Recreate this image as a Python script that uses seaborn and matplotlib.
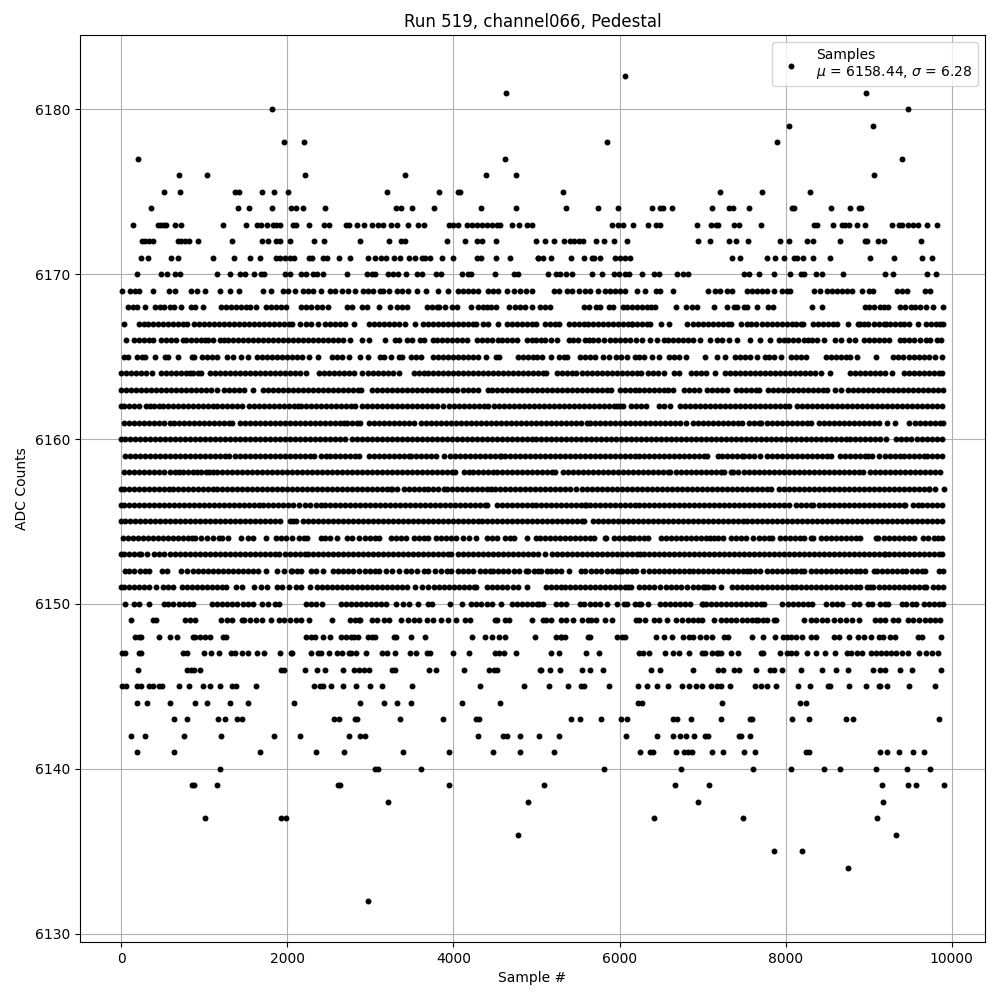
import matplotlib
matplotlib.use('Agg')
import matplotlib.pyplot as plt
import pandas as pd
import seaborn as sns

TITLE = 'Run 519, channel066, Pedestal'
X_LABEL = 'Sample #'
Y_LABEL = 'ADC Counts'
LEGEND_LABEL = 'Samples\n$\\mu$ = 6158.44, $\\sigma$ = 6.28'

# valores, muestra por cada nivel de ADC
adc_6182 = [6060]
adc_6181 = [4627, 8964]
adc_6180 = [1817, 9470]
adc_6179 = [8036, 9048]
adc_6178 = [1962, 2203, 5843, 7892]
adc_6177 = [201, 4615, 9398]
adc_6176 = [695, 1033, 2215, 3421, 4398, 4748, 9060]
adc_6175 = [515, 708, 1371, 1419, 1696, 1841, 2010, 3204, 3831, 4050, 4080, 5325, 7205, 7711, 8289]
adc_6174 = [358, 1407, 1540, 1817, 2046, 2106, 2191, 2456, 3308, 3369, 3505, 3771, 4338, 4748, 5350, 5735, 5976,
            6386, 6482, 6518, 6626, 7108, 7313, 7361, 7554, 8076, 8104, 8542, 8771, 8880, 8904]
adc_6173 = [141, 442, 482, 515, 543, 647, 724, 1226, 1503, 1636, 1684, 1757, 1829, 1869, 1913, 2070, 2102, 2263, 2444,
            2504, 2705, 2742, 2842, 2918, 3023, 3095, 3155, 3252, 3325, 3457, 3578, 3650, 3952, 4000, 4060, 4160, 4220,
            4280, 4350, 4410, 4470, 4522, 4563, 4703, 4784, 4884, 4944, 5904, 5976, 6036, 6157, 6337, 6434, 6486, 6928,
            7096, 7157, 7189, 7373, 7438, 7699, 8337, 8378, 8566, 8675, 8719, 8763, 8860, 8952, 9277, 9361, 9402, 9474,
            9530, 9590, 9703, 9819]
adc_6172 = [249, 289, 334, 382, 683, 724, 772, 816, 925, 1335, 1696, 1769, 1869, 1913, 2034, 2324, 2444, 2878, 3228,
            3369, 3417, 3928, 4145, 4281, 4350, 4518, 4989, 5108, 5205, 5337, 5406, 5446, 5506, 5558, 5711, 5815, 5928,
            6084, 6940, 7084, 7313, 7398, 7542, 7928, 8036, 8253, 8325, 8650, 8952, 8980, 9108, 9180, 9626]
adc_6171 = [237, 322, 599, 683, 1105, 1359, 1548, 1672, 1861, 1909, 1970, 2030, 2078, 2263, 2303, 2432, 2480, 2625,
            2758, 2975, 3059, 3128, 3188, 3288, 3361, 3469, 3538, 3618, 3658, 3723, 3867, 4000, 4281, 4338, 4518, 4687,
            5021, 5024, 5076, 5180, 5410, 5566, 5667, 5695, 5759, 5948, 6000, 6060, 6120, 7349, 7446, 7771, 7867, 7976,
            8096, 8136, 8205, 8333, 8530, 9012, 9301, 9642, 9759]
adc_6170 = [189, 478, 551, 647, 704, 1154, 1315, 1431, 1492, 1600, 1684, 1721, 1974, 2030, 2171, 2231, 2311, 2352, 2432,
            2721, 2963, 3015, 3055, 3216, 3276, 3337, 3433, 3558, 3618, 3795, 3855, 4108, 4173, 4209, 4506, 4724, 4772,
            5144, 5236, 5285, 5357, 5426, 5667, 5783, 5928, 5988, 6068, 6108, 6265, 6418, 6470, 6687, 6763, 6819, 7494,
            7554, 7675, 7855, 8052, 8185, 8225, 8361, 8438, 8687, 9193, 9289, 9703, 9807]
adc_6169 = [8, 109, 161, 213, 382, 575, 643, 844, 912, 1005, 1194, 1307, 1419, 1709, 1809, 1950, 2010, 2090, 2191, 2251,
            2311, 2408, 2513, 2573, 2653, 2733, 2818, 2914, 2967, 3035, 3115, 3155, 3228, 3316, 3377, 3457, 3566, 3674,
            3815, 3940, 4060, 4120, 4181, 4241, 4301, 4422, 4482, 4542, 4643, 4724, 4804, 4868, 4941, 5205, 5265, 5365,
            5426, 5506, 5586, 5647, 5739, 5827, 5888, 5948, 6008, 6068, 6205, 6305, 6442, 6482, 6639, 7060, 7153, 7205,
            7293, 7353, 7534, 7594, 7655, 7715, 7775, 7855, 7956, 8016, 8056, 8337, 8418, 8498, 8558, 8618, 8679, 8739,
            8799, 8916, 9004, 9052, 9341, 9402, 9462, 9675, 9739]
adc_6168 = [80, 141, 189, 285, 402, 462, 522, 583, 639, 719, 844, 884, 985, 1206, 1266, 1327, 1387, 1447, 1507, 1548,
            1624, 1749, 1809, 1869, 1929, 1990, 2171, 2231, 2291, 2352, 2412, 2492, 2721, 2774, 2894, 2955, 3107, 3236,
            3316, 3377, 3437, 3678, 3739, 3799, 3831, 3903, 3984, 4040, 4213, 4301, 4362, 4402, 4450, 4510, 4675, 4744,
            4804, 4864, 4944, 5044, 5105, 5165, 5566, 5627, 5719, 5767, 5875, 5920, 6040, 6088, 6148, 6209, 6269, 6329,
            6378, 6430, 6675, 6803, 6871, 6932, 7133, 7289, 7373, 7414, 7494, 7534, 7655, 7783, 7847, 8317, 8438, 8952,
            9000, 9060, 9140, 9180, 9233, 9373, 9442, 9510, 9562, 9622, 9683, 9771, 9891]
adc_6167 = [32, 210, 270, 320, 380, 440, 500, 560, 620, 680, 740, 790, 880, 940, 1000, 1060, 1120, 1180, 1240, 1300,
            1360, 1420, 1480, 1540, 1600, 1660, 1720, 1780, 1840, 1900, 1960, 2020, 2060, 2151, 2231, 2291, 2372, 2460,
            2520, 2580, 2640, 2700, 2800, 2980, 3040, 3100, 3160, 3220, 3280, 3340, 3420, 3538, 3630, 3690, 3750, 3810,
            3870, 3930, 3990, 4050, 4110, 4170, 4230, 4270, 4362, 4420, 4538, 4640, 4700, 4760, 4820, 4880, 4940, 5000,
            5105, 5165, 5225, 5265, 5386, 5446, 5506, 5566, 5626, 5686, 5746, 5806, 5866, 5926, 5986, 6040, 6100, 6152,
            6150, 6210, 6270, 6330, 6370, 6498, 6591, 6815, 6880, 6950, 7000, 7060, 7120, 7180, 7240, 7300, 7345, 7462,
            7530, 7585, 7643, 7720, 7780, 7840, 7900, 7955, 8012, 8070, 8130, 8190, 8209, 8330, 8390, 8450, 8510, 8570,
            8620, 8747, 8870, 8900, 8940, 8990, 9060, 9120, 9180, 9210, 9250, 9310, 9370, 9430, 9480, 9588, 9690, 9750,
            9810, 9855, 9892]
adc_6166 = [60, 160, 220, 280, 334, 382, 482, 540, 600, 660, 743, 784, 844, 900, 960, 1005, 1045, 1100, 1194, 1234, 1290,
            1350, 1410, 1470, 1527, 1588, 1650, 1710, 1770, 1830, 1890, 1950, 2010, 2070, 2130, 2190, 2250, 2310, 2370,
            2430, 2490, 2550, 2610, 2670, 2754, 2894, 2987, 3180, 3296, 3350, 3437, 3505, 3598, 3650, 3759, 3799, 3860,
            3920, 3980, 4040, 4100, 4160, 4281, 4341, 4400, 4460, 4542, 4582, 4640, 4700, 4760, 4884, 4944, 5000, 5060,
            5105, 5173, 5245, 5386, 5440, 5500, 5587, 5627, 5680, 5740, 5815, 5888, 5950, 6010, 6068, 6129, 6201, 6269,
            6362, 6450, 6530, 6579, 6640, 6700, 6760, 6820, 6880, 6972, 7093, 7173, 7233, 7313, 7414, 7575, 7687, 7815,
            7916, 7976, 8030, 8090, 8150, 8217, 8265, 8317, 8380, 8458, 8599, 8660, 8760, 8840, 8940, 9000, 9060, 9120,
            9180, 9240, 9380, 9421, 9481, 9540, 9622, 9683, 9743, 9823, 9872]
adc_6165 = [32, 88, 190, 250, 290, 402, 530, 570, 683, 855, 873, 975, 1030, 1090, 1150, 1280, 1350, 1447, 1527, 1640,
            1700, 1760, 1820, 1880, 1940, 2000, 2060, 2120, 2180, 2260, 2372, 2540, 2600, 2660, 2740, 2874, 2967, 3115,
            3170, 3245, 3350, 3385, 3490, 3550, 3610, 3755, 3815, 3875, 3935, 3995, 4055, 4115, 4175, 4235, 4295, 4390,
            4510, 4550, 4775, 4835, 4895, 4955, 5010, 5070, 5173, 5275, 5330, 5370, 5520, 5580, 5640, 5710, 5795, 5868,
            5960, 6020, 6089, 6189, 6240, 6300, 6396, 6470, 6600, 6660, 6720, 6800, 7033, 7173, 7273, 7385, 7450, 7510,
            7570, 7650, 7746, 7800, 7860, 7940, 8060, 8120, 8180, 8250, 8480, 8540, 8600, 8660, 8720, 8780, 8860, 9092,
            9294, 9350, 9410, 9480, 9540, 9600, 9660, 9720, 9800, 9884]
adc_6164 = [0, 60, 120, 180, 240, 300, 370, 480, 540, 600, 660, 720, 780, 830, 870, 930, 960, 1070, 1130, 1190, 1250,
            1310, 1370, 1430, 1490, 1550, 1610, 1670, 1730, 1790, 1850, 1910, 1970, 2030, 2090, 2150, 2230, 2380, 2440,
            2500, 2560, 2620, 2680, 2740, 2800, 2900, 2970, 3030, 3090, 3150, 3210, 3270, 3340, 3520, 3580, 3640, 3700,
            3760, 3820, 3880, 3940, 4000, 4060, 4120, 4180, 4240, 4300, 4360, 4420, 4480, 4540, 4600, 4660, 4720, 4780,
            4840, 4900, 4960, 5020, 5080, 5120, 5250, 5310, 5370, 5430, 5480, 5550, 5610, 5670, 5730, 5790, 5850, 5910,
            5970, 6030, 6090, 6150, 6210, 6260, 6340, 6400, 6460, 6530, 6650, 6720, 6860, 6920, 6980, 7040, 7145, 7270,
            7330, 7390, 7450, 7510, 7570, 7630, 7690, 7750, 7810, 7870, 7930, 7990, 8050, 8110, 8170, 8230, 8290, 8350,
            8420, 8530, 8780, 8840, 8900, 8960, 9020, 9080, 9140, 9200, 9280, 9430, 9490, 9550, 9600, 9660, 9720, 9780,
            9840, 9885]
adc_6163 = [0, 60, 120, 180, 240, 300, 360, 420, 480, 540, 600, 660, 720, 780, 840, 900, 960, 1020, 1080, 1150, 1240,
            1300, 1360, 1420, 1480, 1590, 1710, 1770, 1830, 1890, 1950, 2010, 2070, 2130, 2190, 2250, 2310, 2370, 2430,
            2490, 2550, 2610, 2670, 2730, 2790, 2850, 2890, 3020, 3080, 3140, 3200, 3260, 3320, 3380, 3440, 3500, 3560,
            3620, 3680, 3740, 3800, 3860, 3920, 3980, 4040, 4120, 4180, 4240, 4300, 4420, 4460, 4530, 4590, 4650, 4710,
            4770, 4830, 4890, 4950, 5010, 5070, 5130, 5190, 5250, 5310, 5370, 5430, 5490, 5550, 5610, 5670, 5730, 5790,
            5850, 5900, 6000, 6060, 6120, 6180, 6240, 6300, 6360, 6420, 6480, 6540, 6580, 6640, 6780, 6840, 6900, 6960,
            7050, 7110, 7170, 7230, 7290, 7400, 7460, 7520, 7580, 7640, 7680, 7790, 7850, 7910, 7970, 8030, 8090, 8150,
            8210, 8270, 8330, 8390, 8450, 8500, 8590, 8660, 8750, 8810, 8870, 8930, 8990, 9050, 9110, 9170, 9230, 9290,
            9350, 9410, 9470, 9530, 9590, 9650, 9710, 9770, 9830, 9890]
adc_6162 = [0, 40, 100, 160, 220, 300, 350, 400, 450, 500, 560, 620, 680, 740, 800, 860, 920, 980, 1040, 1100, 1160,
            1220, 1280, 1340, 1400, 1460, 1540, 1600, 1660, 1720, 1780, 1840, 1900, 1960, 2020, 2080, 2130, 2170, 2230,
            2290, 2350, 2410, 2470, 2530, 2590, 2650, 2710, 2770, 2820, 2900, 2960, 3020, 3080, 3140, 3200, 3260, 3320,
            3380, 3440, 3500, 3560, 3620, 3680, 3740, 3800, 3880, 3950, 4010, 4070, 4130, 4190, 4250, 4310, 4370, 4420,
            4490, 4550, 4610, 4670, 4730, 4790, 4850, 4910, 4970, 5030, 5090, 5150, 5210, 5270, 5330, 5390, 5450, 5510,
            5570, 5630, 5690, 5750, 5810, 5870, 5930, 5970, 6010, 6040, 6140, 6200, 6260, 6320, 6480, 6540, 6610, 6730,
            6790, 6850, 6910, 6970, 7030, 7090, 7150, 7210, 7270, 7330, 7390, 7450, 7510, 7570, 7630, 7690, 7750, 7810,
            7870, 7930, 7990, 8040, 8140, 8200, 8260, 8320, 8380, 8440, 8500, 8560, 8620, 8680, 8740, 8800, 8860, 8920,
            8980, 9040, 9100, 9160, 9220, 9280, 9340, 9400, 9460, 9520, 9580, 9640, 9700, 9760, 9820, 9880]
adc_6161 = [32, 90, 150, 210, 270, 330, 390, 450, 510, 590, 640, 700, 760, 820, 880, 940, 1000, 1060, 1120, 1180, 1240,
            1300, 1340, 1430, 1490, 1550, 1610, 1670, 1730, 1790, 1850, 1910, 1970, 2030, 2090, 2150, 2210, 2270, 2330,
            2390, 2450, 2510, 2570, 2630, 2680, 2720, 2780, 2840, 2870, 2980, 3040, 3100, 3160, 3220, 3280, 3340, 3400,
            3460, 3530, 3610, 3670, 3730, 3790, 3850, 3910, 3970, 4030, 4090, 4150, 4210, 4270, 4330, 4390, 4450, 4510,
            4570, 4630, 4690, 4750, 4810, 4870, 4930, 4990, 5050, 5110, 5170, 5230, 5290, 5350, 5410, 5470, 5540, 5610,
            5650, 5710, 5770, 5830, 5890, 5950, 6010, 6070, 6130, 6190, 6250, 6310, 6370, 6430, 6490, 6550, 6610, 6670,
            6730, 6800, 6880, 6940, 7000, 7060, 7120, 7180, 7240, 7300, 7360, 7420, 7470, 7560, 7620, 7680, 7705, 7770,
            7830, 7890, 7950, 8020, 8080, 8140, 8200, 8260, 8310, 8400, 8460, 8520, 8580, 8640, 8700, 8760, 8820, 8880,
            8940, 9000, 9060, 9120, 9220, 9320, 9490, 9560, 9620, 9680, 9740, 9800, 9860, 9890]
adc_6160 = [0, 50, 110, 170, 230, 290, 350, 410, 470, 530, 590, 650, 710, 770, 830, 890, 950, 1010, 1070, 1130, 1190,
            1250, 1310, 1370, 1430, 1490, 1550, 1610, 1670, 1730, 1790, 1850, 1910, 1970, 2030, 2090, 2150, 2210, 2270,
            2330, 2390, 2450, 2510, 2570, 2630, 2700, 2780, 2840, 2900, 2960, 3020, 3080, 3140, 3200, 3260, 3320, 3380,
            3440, 3500, 3560, 3620, 3680, 3740, 3800, 3860, 3920, 3980, 4040, 4100, 4160, 4220, 4280, 4340, 4400, 4460,
            4520, 4580, 4640, 4700, 4760, 4820, 4880, 4940, 5000, 5060, 5120, 5180, 5240, 5300, 5360, 5420, 5480, 5540,
            5600, 5660, 5720, 5780, 5840, 5900, 5960, 6020, 6080, 6140, 6200, 6260, 6320, 6380, 6440, 6500, 6560, 6620,
            6680, 6740, 6800, 6860, 6920, 6980, 7040, 7100, 7160, 7220, 7280, 7340, 7400, 7460, 7520, 7580, 7640, 7700,
            7760, 7820, 7880, 7940, 8000, 8060, 8120, 8180, 8240, 8300, 8360, 8420, 8480, 8540, 8600, 8660, 8720, 8780,
            8840, 8900, 8960, 9020, 9080, 9140, 9210, 9330, 9390, 9450, 9510, 9580, 9640, 9700, 9760, 9820, 9885]
adc_6159 = [50, 110, 170, 230, 290, 350, 410, 470, 530, 590, 650, 710, 770, 830, 890, 950, 1010, 1070, 1130, 1190, 1250,
            1300, 1370, 1430, 1490, 1550, 1610, 1670, 1730, 1790, 1850, 1910, 1970, 2030, 2090, 2150, 2210, 2270, 2320,
            2410, 2470, 2510, 2570, 2630, 2690, 2750, 2810, 2860, 2980, 3040, 3100, 3160, 3220, 3280, 3340, 3400, 3460,
            3490, 3550, 3610, 3670, 3730, 3790, 3890, 3960, 4020, 4080, 4140, 4200, 4260, 4320, 4380, 4440, 4500, 4560,
            4570, 4620, 4680, 4740, 4800, 4860, 4920, 4980, 5040, 5100, 5160, 5220, 5280, 5340, 5400, 5460, 5520, 5580,
            5640, 5700, 5760, 5820, 5880, 5940, 6000, 6060, 6120, 6180, 6240, 6300, 6360, 6420, 6480, 6540, 6600, 6660,
            6720, 6780, 6840, 6900, 6960, 7020, 7050, 7180, 7230, 7290, 7350, 7410, 7470, 7500, 7560, 7620, 7690, 7780,
            7840, 7900, 7960, 8020, 8080, 8140, 8200, 8260, 8320, 8380, 8440, 8500, 8550, 8650, 8710, 8770, 8830, 8890,
            8950, 8995, 9040, 9120, 9190, 9250, 9310, 9370, 9430, 9490, 9550, 9610, 9670, 9695, 9765, 9820, 9885]
adc_6158 = [32, 90, 150, 210, 270, 330, 390, 450, 510, 590, 650, 700, 750, 810, 860, 910, 960, 1020, 1060, 1100, 1160,
            1220, 1280, 1340, 1400, 1460, 1520, 1580, 1640, 1700, 1760, 1820, 1880, 1940, 2000, 2060, 2120, 2180, 2240,
            2300, 2360, 2420, 2480, 2540, 2600, 2660, 2720, 2780, 2840, 2900, 2960, 3020, 3080, 3140, 3200, 3260, 3320,
            3380, 3440, 3500, 3560, 3620, 3680, 3740, 3800, 3860, 3920, 3980, 4020, 4130, 4190, 4230, 4300, 4360, 4420,
            4480, 4530, 4590, 4650, 4710, 4770, 4830, 4890, 4950, 5010, 5070, 5130, 5190, 5220, 5320, 5380, 5440, 5500,
            5560, 5620, 5680, 5740, 5800, 5860, 5920, 5980, 6040, 6100, 6160, 6220, 6280, 6340, 6400, 6460, 6520, 6580,
            6610, 6680, 6740, 6800, 6860, 6920, 6980, 7040, 7100, 7160, 7220, 7260, 7340, 7370, 7430, 7500, 7560, 7620,
            7680, 7740, 7800, 7860, 7920, 7980, 8040, 8100, 8160, 8220, 8280, 8340, 8400, 8460, 8520, 8580, 8640, 8700,
            8760, 8820, 8880, 8930, 9020, 9080, 9130, 9200, 9260, 9320, 9380, 9440, 9500, 9560, 9620, 9680, 9740, 9800,
            9860]
adc_6157 = [0, 40, 100, 160, 220, 280, 340, 400, 460, 520, 580, 620, 680, 740, 800, 860, 920, 980, 1040, 1100, 1160,
            1220, 1280, 1340, 1400, 1460, 1520, 1580, 1640, 1700, 1760, 1820, 1880, 1940, 2000, 2060, 2120, 2180, 2240,
            2300, 2360, 2420, 2480, 2540, 2600, 2660, 2720, 2780, 2840, 2900, 2960, 3020, 3080, 3140, 3200, 3245, 3260,
            3320, 3400, 3460, 3520, 3580, 3640, 3700, 3760, 3810, 3890, 3920, 3980, 4040, 4100, 4160, 4220, 4280, 4340,
            4400, 4450, 4500, 4560, 4620, 4680, 4740, 4800, 4860, 4920, 4980, 5040, 5100, 5160, 5220, 5280, 5340, 5400,
            5470, 5550, 5610, 5670, 5730, 5790, 5850, 5910, 5970, 6030, 6090, 6150, 6210, 6270, 6330, 6390, 6450, 6510,
            6570, 6630, 6690, 6750, 6810, 6870, 6930, 6990, 7050, 7110, 7170, 7230, 7290, 7350, 7410, 7470, 7530, 7590,
            7650, 7710, 7770, 7820, 7920, 7980, 8040, 8100, 8160, 8220, 8280, 8340, 8400, 8460, 8520, 8580, 8640, 8700,
            8760, 8820, 8880, 8940, 9000, 9060, 9120, 9180, 9240, 9300, 9360, 9420, 9480, 9540, 9600, 9660, 9720, 9730,
            9800, 9900]
adc_6156 = [0, 40, 100, 160, 220, 280, 340, 400, 460, 520, 580, 640, 700, 760, 820, 880, 940, 1000, 1060, 1120, 1180,
            1240, 1300, 1360, 1420, 1480, 1540, 1600, 1660, 1710, 1770, 1830, 1890, 1950, 2010, 2070, 2140, 2210, 2270,
            2340, 2400, 2460, 2520, 2580, 2640, 2700, 2760, 2820, 2880, 2940, 3000, 3060, 3120, 3180, 3240, 3300, 3360,
            3420, 3480, 3540, 3600, 3660, 3720, 3780, 3840, 3900, 3960, 4020, 4080, 4140, 4200, 4260, 4320, 4380, 4410,
            4520, 4580, 4640, 4700, 4760, 4820, 4880, 4940, 5000, 5060, 5120, 5180, 5240, 5300, 5360, 5420, 5480, 5540,
            5580, 5600, 5640, 5700, 5760, 5820, 5880, 5940, 6000, 6060, 6120, 6180, 6240, 6300, 6360, 6420, 6480, 6540,
            6600, 6660, 6720, 6780, 6840, 6900, 6960, 7020, 7080, 7140, 7200, 7260, 7320, 7380, 7440, 7500, 7560, 7620,
            7680, 7740, 7800, 7860, 7920, 7980, 8040, 8120, 8180, 8240, 8300, 8330, 8400, 8460, 8520, 8580, 8640, 8700,
            8760, 8820, 8880, 8940, 9000, 9060, 9120, 9180, 9240, 9300, 9360, 9420, 9440, 9530, 9590, 9640, 9700, 9760,
            9820, 9880]
adc_6155 = [0, 50, 110, 170, 230, 290, 350, 410, 470, 530, 590, 650, 710, 770, 830, 890, 950, 1010, 1070, 1130, 1190,
            1250, 1310, 1370, 1430, 1490, 1550, 1610, 1670, 1730, 1790, 1850, 1910, 2030, 2070, 2110, 2190, 2250, 2310,
            2370, 2430, 2490, 2550, 2610, 2670, 2730, 2790, 2850, 2910, 2970, 3030, 3090, 3150, 3210, 3270, 3330, 3390,
            3450, 3510, 3570, 3630, 3690, 3750, 3810, 3870, 3930, 3990, 4050, 4110, 4170, 4230, 4290, 4350, 4410, 4470,
            4530, 4590, 4650, 4710, 4770, 4830, 4890, 4950, 5010, 5070, 5130, 5190, 5250, 5310, 5370, 5430, 5490, 5550,
            5570, 5680, 5740, 5800, 5860, 5920, 5980, 6040, 6100, 6160, 6220, 6280, 6340, 6400, 6460, 6520, 6580, 6640,
            6700, 6760, 6820, 6880, 6940, 7000, 7060, 7120, 7180, 7240, 7300, 7360, 7420, 7480, 7540, 7600, 7660, 7720,
            7780, 7840, 7900, 7960, 8020, 8080, 8140, 8200, 8260, 8320, 8380, 8440, 8500, 8560, 8620, 8680, 8740, 8800,
            8860, 8920, 8980, 9040, 9100, 9160, 9220, 9280, 9340, 9400, 9460, 9520, 9580, 9640, 9700, 9760, 9820, 9885]
adc_6154 = [20, 80, 140, 200, 260, 320, 380, 440, 500, 560, 620, 680, 740, 800, 850, 890, 960, 1030, 1105, 1180, 1210,
            1290, 1440, 1530, 1590, 1740, 1860, 1920, 1980, 2060, 2140, 2200, 2240, 2400, 2460, 2520, 2600, 2720, 2780,
            2860, 2930, 2990, 3050, 3110, 3250, 3310, 3370, 3425, 3530, 3590, 3650, 3690, 3790, 3850, 3910, 3970, 4030,
            4110, 4190, 4270, 4400, 4460, 4530, 4620, 4680, 4730, 4880, 5000, 5040, 5100, 5160, 5220, 5280, 5340, 5400,
            5460, 5520, 5580, 5640, 5690, 5820, 5840, 5930, 5990, 6050, 6110, 6130, 6170, 6230, 6290, 6340, 6500, 6560,
            6620, 6680, 6740, 6800, 6860, 6920, 6980, 7040, 7090, 7140, 7190, 7250, 7340, 7400, 7460, 7520, 7610, 7680,
            7740, 7800, 7840, 7930, 7990, 8050, 8110, 8170, 8220, 8300, 8330, 8430, 8490, 8550, 8610, 8670, 8730, 8790,
            8850, 8900, 9090, 9110, 9180, 9240, 9300, 9360, 9420, 9480, 9550, 9650, 9710, 9790, 9835, 9880]
adc_6153 = [0, 40, 100, 160, 210, 240, 310, 390, 450, 510, 590, 650, 710, 770, 830, 890, 950, 1010, 1070, 1130, 1190,
            1250, 1310, 1370, 1430, 1490, 1550, 1610, 1670, 1730, 1790, 1850, 1900, 1970, 2030, 2090, 2150, 2210, 2250,
            2310, 2370, 2430, 2490, 2550, 2610, 2670, 2730, 2790, 2850, 2910, 2970, 3030, 3090, 3150, 3210, 3270, 3330,
            3390, 3450, 3510, 3570, 3630, 3690, 3750, 3810, 3870, 3930, 3970, 4060, 4120, 4180, 4240, 4300, 4360, 4420,
            4480, 4540, 4600, 4660, 4720, 4780, 4840, 4900, 4960, 5020, 5100, 5190, 5250, 5310, 5370, 5430, 5490, 5550,
            5610, 5670, 5730, 5790, 5850, 5910, 5970, 6030, 6090, 6150, 6210, 6250, 6290, 6360, 6420, 6480, 6540, 6600,
            6660, 6720, 6780, 6840, 6900, 6960, 7020, 7080, 7140, 7200, 7260, 7320, 7380, 7440, 7500, 7560, 7620, 7680,
            7740, 7800, 7860, 7920, 7980, 8040, 8100, 8160, 8220, 8280, 8340, 8400, 8460, 8520, 8580, 8640, 8700, 8760,
            8820, 8880, 8940, 9000, 9060, 9120, 9180, 9200, 9240, 9300, 9360, 9420, 9480, 9550, 9610, 9670, 9730, 9790,
            9850, 9885]
adc_6152 = [45, 100, 160, 230, 290, 340, 490, 550, 720, 790, 870, 930, 990, 1050, 1110, 1170, 1230, 1290, 1350, 1410,
            1470, 1530, 1590, 1650, 1740, 1880, 1960, 2040, 2060, 2120, 2170, 2280, 2340, 2430, 2550, 2610, 2670, 2730,
            2790, 2860, 2930, 2990, 3050, 3110, 3190, 3260, 3340, 3430, 3490, 3560, 3640, 3700, 3780, 3850, 3920, 3970,
            4060, 4120, 4170, 4240, 4320, 4380, 4440, 4480, 4540, 4600, 4660, 4730, 4790, 4870, 4900, 4970, 5020, 5060,
            5130, 5170, 5230, 5290, 5390, 5530, 5590, 5660, 5720, 5780, 5850, 5910, 5970, 6000, 6030, 6090, 6150, 6200,
            6280, 6350, 6410, 6470, 6530, 6590, 6650, 6710, 6770, 6830, 6890, 6950, 7010, 7070, 7130, 7190, 7250, 7310,
            7370, 7430, 7490, 7530, 7570, 7630, 7690, 7770, 7830, 7890, 7950, 8010, 8070, 8130, 8190, 8220, 8300, 8360,
            8420, 8490, 8550, 8610, 8670, 8730, 8790, 8850, 8890, 8960, 9060, 9100, 9160, 9220, 9280, 9340, 9400, 9450,
            9520, 9580, 9640, 9680, 9840, 9890]
adc_6151 = [0, 40, 100, 160, 220, 280, 340, 420, 500, 560, 620, 730, 790, 850, 910, 970, 1030, 1090, 1150, 1210, 1260,
            1380, 1450, 1600, 1680, 1750, 1880, 1940, 2020, 2100, 2160, 2270, 2360, 2420, 2480, 2540, 2600, 2660, 2720,
            2780, 2840, 2900, 2960, 3020, 3080, 3140, 3200, 3260, 3320, 3380, 3440, 3540, 3620, 3690, 3770, 3830, 3890,
            3950, 4010, 4070, 4130, 4190, 4250, 4270, 4400, 4460, 4530, 4590, 4650, 4720, 4780, 4880, 5110, 5170, 5240,
            5290, 5340, 5400, 5460, 5520, 5580, 5640, 5700, 5760, 5820, 5880, 5950, 6010, 6070, 6100, 6140, 6230, 6290,
            6350, 6420, 6490, 6560, 6620, 6680, 6740, 6810, 6880, 6950, 7010, 7030, 7060, 7120, 7220, 7350, 7410, 7470,
            7530, 7590, 7650, 7710, 7770, 7830, 7890, 7950, 8010, 8070, 8130, 8190, 8250, 8310, 8370, 8430, 8490, 8550,
            8610, 8670, 8730, 8790, 8850, 8900, 8980, 9010, 9050, 9120, 9180, 9240, 9300, 9360, 9420, 9480, 9540, 9600,
            9660, 9690, 9770, 9830, 9890]
adc_6150 = [45, 160, 220, 340, 510, 570, 630, 700, 760, 820, 870, 1090, 1150, 1210, 1270, 1330, 1390, 1470, 1530, 1590,
            1700, 1770, 1850, 1900, 2230, 2290, 2350, 2420, 2650, 2710, 2770, 2830, 2890, 2950, 3010, 3070, 3130, 3190,
            3310, 3390, 3470, 3570, 3700, 3740, 3960, 4100, 4210, 4270, 4330, 4410, 4470, 4570, 4710, 4770, 4830, 4890,
            4950, 5010, 5030, 5080, 5240, 5300, 5360, 5520, 5570, 5640, 5700, 5770, 5850, 5970, 6090, 6050, 6180, 6240,
            6260, 6340, 6490, 6550, 6610, 6670, 6730, 6790, 6850, 6990, 7000, 7040, 7100, 7160, 7220, 7280, 7340, 7400,
            7460, 7520, 7580, 7640, 7700, 7740, 7950, 8030, 8090, 8150, 8210, 8270, 8320, 8480, 8560, 8620, 8680, 8820,
            8880, 8990, 9040, 9130, 9200, 9230, 9400, 9450, 9520, 9570, 9670, 9730, 9790, 9850, 9890]
adc_6149 = [117, 380, 415, 770, 830, 890, 1205, 1270, 1340, 1455, 1480, 1550, 1620, 1690, 1810, 1900, 1960, 2030, 2110,
            2170, 2260, 2540, 2760, 2810, 2860, 2880, 3020, 3080, 3160, 3230, 3370, 3450, 3520, 3590, 3680, 3760, 3850,
            3940, 4030, 4140, 4200, 4500, 4530, 4620, 4670, 4950, 5080, 5110, 5180, 5290, 5360, 5440, 5550, 5620, 5660,
            5720, 5825, 5905, 6200, 6230, 6310, 6410, 6480, 6570, 6680, 6750, 6820, 6880, 6940, 6990, 7140, 7225, 7280,
            7340, 7400, 7470, 7530, 7590, 7640, 7670, 7730, 7780, 7860, 7880, 8220, 8300, 8370, 8440, 8500, 8580, 8650,
            8720, 8800, 8880, 9070, 9130, 9190, 9290, 9350, 9470, 9530, 9600, 9680, 9740, 9800, 9860]
adc_6148 = [170, 215, 241, 454, 587, 670, 860, 890, 950, 1005, 1073, 1230, 1265, 2230, 2280, 2330, 2433, 2516, 2650, 2710,
            2770, 2800, 2850, 2970, 3020, 3060, 3290, 3310, 3490, 3660, 4220, 4377, 4460, 4545, 4617, 4988, 5240, 5290,
            5300, 5340, 5620, 5650, 5964, 6030, 6070, 6434, 6530, 6630, 6762, 6830, 6890, 6966, 7040, 7110, 7260, 7300,
            7590, 7724, 7870, 7970, 8010, 8060, 8120, 8200, 8300, 8360, 8580, 8640, 8760, 8870, 8940, 9030, 9120, 9170,
            9250, 9310, 9590, 9640, 9870]
adc_6147 = [15, 50, 220, 245, 750, 790, 997, 1085, 1175, 1320, 1370, 1460, 1530, 1640, 1716, 1913, 2040, 2060, 2288, 2370,
            2410, 2505, 2600, 2660, 2740, 2770, 2830, 2950, 3140, 3200, 3300, 3480, 3545, 3680, 3720, 4000, 4190, 4495,
            4550, 4610, 4748, 5173, 5277, 5591, 5747, 6236, 6285, 6350, 6542, 6643, 6712, 6832, 6990, 7030, 7110, 7170,
            7180, 7220, 7345, 7422, 7700, 7725, 7928, 8020, 8060, 8130, 8254, 8362, 8470, 8590, 8740, 8790, 8860, 8920,
            9030, 9090, 9150, 9210, 9270, 9330, 9400, 9470, 9600, 9690, 9760, 9830]
adc_6146 = [201, 790, 840, 873, 953, 1920, 1960, 2215, 2360, 2455, 2675, 2800, 2860, 2920, 2980, 3260, 3300, 3705, 3795,
            4128, 4426, 4490, 4530, 5045, 5060, 5160, 5280, 5550, 5640, 5800, 6382, 6482, 6880, 7180, 7240, 7380, 7440,
            7640, 7810, 7860, 7960, 8180, 8440, 8610, 8750, 9050, 9130, 9190, 9375, 9520, 9872]
adc_6145 = [15, 60, 190, 240, 330, 380, 450, 490, 692, 816, 981, 1069, 1190, 1340, 1380, 1624, 2324, 2390, 2430, 2529,
            2673, 2826, 2990, 3146, 3507, 4325, 4845, 5145, 5374, 5530, 5570, 5868, 6217, 6326, 6446, 6578, 6747, 6831,
            6920, 6990, 7097, 7173, 7220, 7329, 7627, 7700, 7775, 7880, 8145, 8298, 8505, 8530, 8760, 8964, 9120, 9130,
            9217, 9483, 9796]
adc_6144 = [189, 310, 587, 889, 1033, 1311, 1528, 2082, 2878, 3167, 3324, 3493, 4108, 4555, 6221, 6270, 7229, 8170, 8240]
adc_6143 = [635, 792, 1165, 1250, 1400, 1450, 2565, 2625, 2810, 2840, 3351, 3880, 4270, 4310, 5410, 5518, 5775, 6012,
            6085, 6640, 6690, 6855, 7217, 7570, 7595, 8073, 8277, 8723, 8808, 9844]
adc_6142 = [117, 285, 756, 1202, 1841, 2155, 2746, 2880, 2930, 4300, 4600, 4640, 4805, 5034, 5265, 6073, 6450, 6643,
            6723, 6802, 6893, 7026, 7060, 7434, 7460, 7566]
adc_6141 = [189, 635, 1672, 2348, 2685, 3397, 3941, 4481, 4797, 5205, 6241, 6362, 6405, 6675, 6776, 6820, 6868, 7108,
            7241, 7494, 7627, 8240, 8280, 9133, 9220, 9368, 9532, 9664]
adc_6140 = [1190, 3050, 3095, 3613, 5808, 6736, 7603, 8060, 8458, 8651, 9084, 9458, 9738]
adc_6139 = [850, 880, 1154, 2610, 2640, 3941, 5085, 6663, 7072, 9157, 9470, 9569, 9904]
adc_6138 = [3216, 4893, 6940, 9172]
adc_6137 = [1009, 1926, 1990, 6410, 7482, 9097]
adc_6136 = [4775, 9326]
adc_6135 = [7856, 8193]
adc_6134 = [8747]
adc_6132 = [2975]

ADC_LEVELS = {
    6182: adc_6182, 6181: adc_6181, 6180: adc_6180, 6179: adc_6179, 6178: adc_6178, 6177: adc_6177, 6176: adc_6176,
    6175: adc_6175, 6174: adc_6174, 6173: adc_6173, 6172: adc_6172, 6171: adc_6171, 6170: adc_6170, 6169: adc_6169,
    6168: adc_6168, 6167: adc_6167, 6166: adc_6166, 6165: adc_6165, 6164: adc_6164, 6163: adc_6163, 6162: adc_6162,
    6161: adc_6161, 6160: adc_6160, 6159: adc_6159, 6158: adc_6158, 6157: adc_6157, 6156: adc_6156, 6155: adc_6155,
    6154: adc_6154, 6153: adc_6153, 6152: adc_6152, 6151: adc_6151, 6150: adc_6150, 6149: adc_6149, 6148: adc_6148,
    6147: adc_6147, 6146: adc_6146, 6145: adc_6145, 6144: adc_6144, 6143: adc_6143, 6142: adc_6142, 6141: adc_6141,
    6140: adc_6140, 6139: adc_6139, 6138: adc_6138, 6137: adc_6137, 6136: adc_6136, 6135: adc_6135, 6134: adc_6134,
    6132: adc_6132,
}


def armar_tabla():
    filas = []
    for nivel, muestras in ADC_LEVELS.items():
        for muestra in muestras:
            filas.append({'sample': muestra, 'adc': nivel})
    return pd.DataFrame(filas)


def graficar_muestras(df):
    fig, ax = plt.subplots(figsize=(10, 10), dpi=100)
    sns.scatterplot(data=df, x='sample', y='adc', color='black', marker='.', s=42,
                    linewidth=1, edgecolor='black', label=LEGEND_LABEL, ax=ax)
    ax.set_axisbelow(True)
    ax.grid(True)
    ax.set_title(TITLE)
    ax.set_xlabel(X_LABEL)
    ax.set_ylabel(Y_LABEL)
    ax.legend(loc='upper right')
    fig.subplots_adjust(left=0.08, right=0.985, top=0.965, bottom=0.058)
    fig.savefig('out.png', dpi=100)


graficar_muestras(armar_tabla())
